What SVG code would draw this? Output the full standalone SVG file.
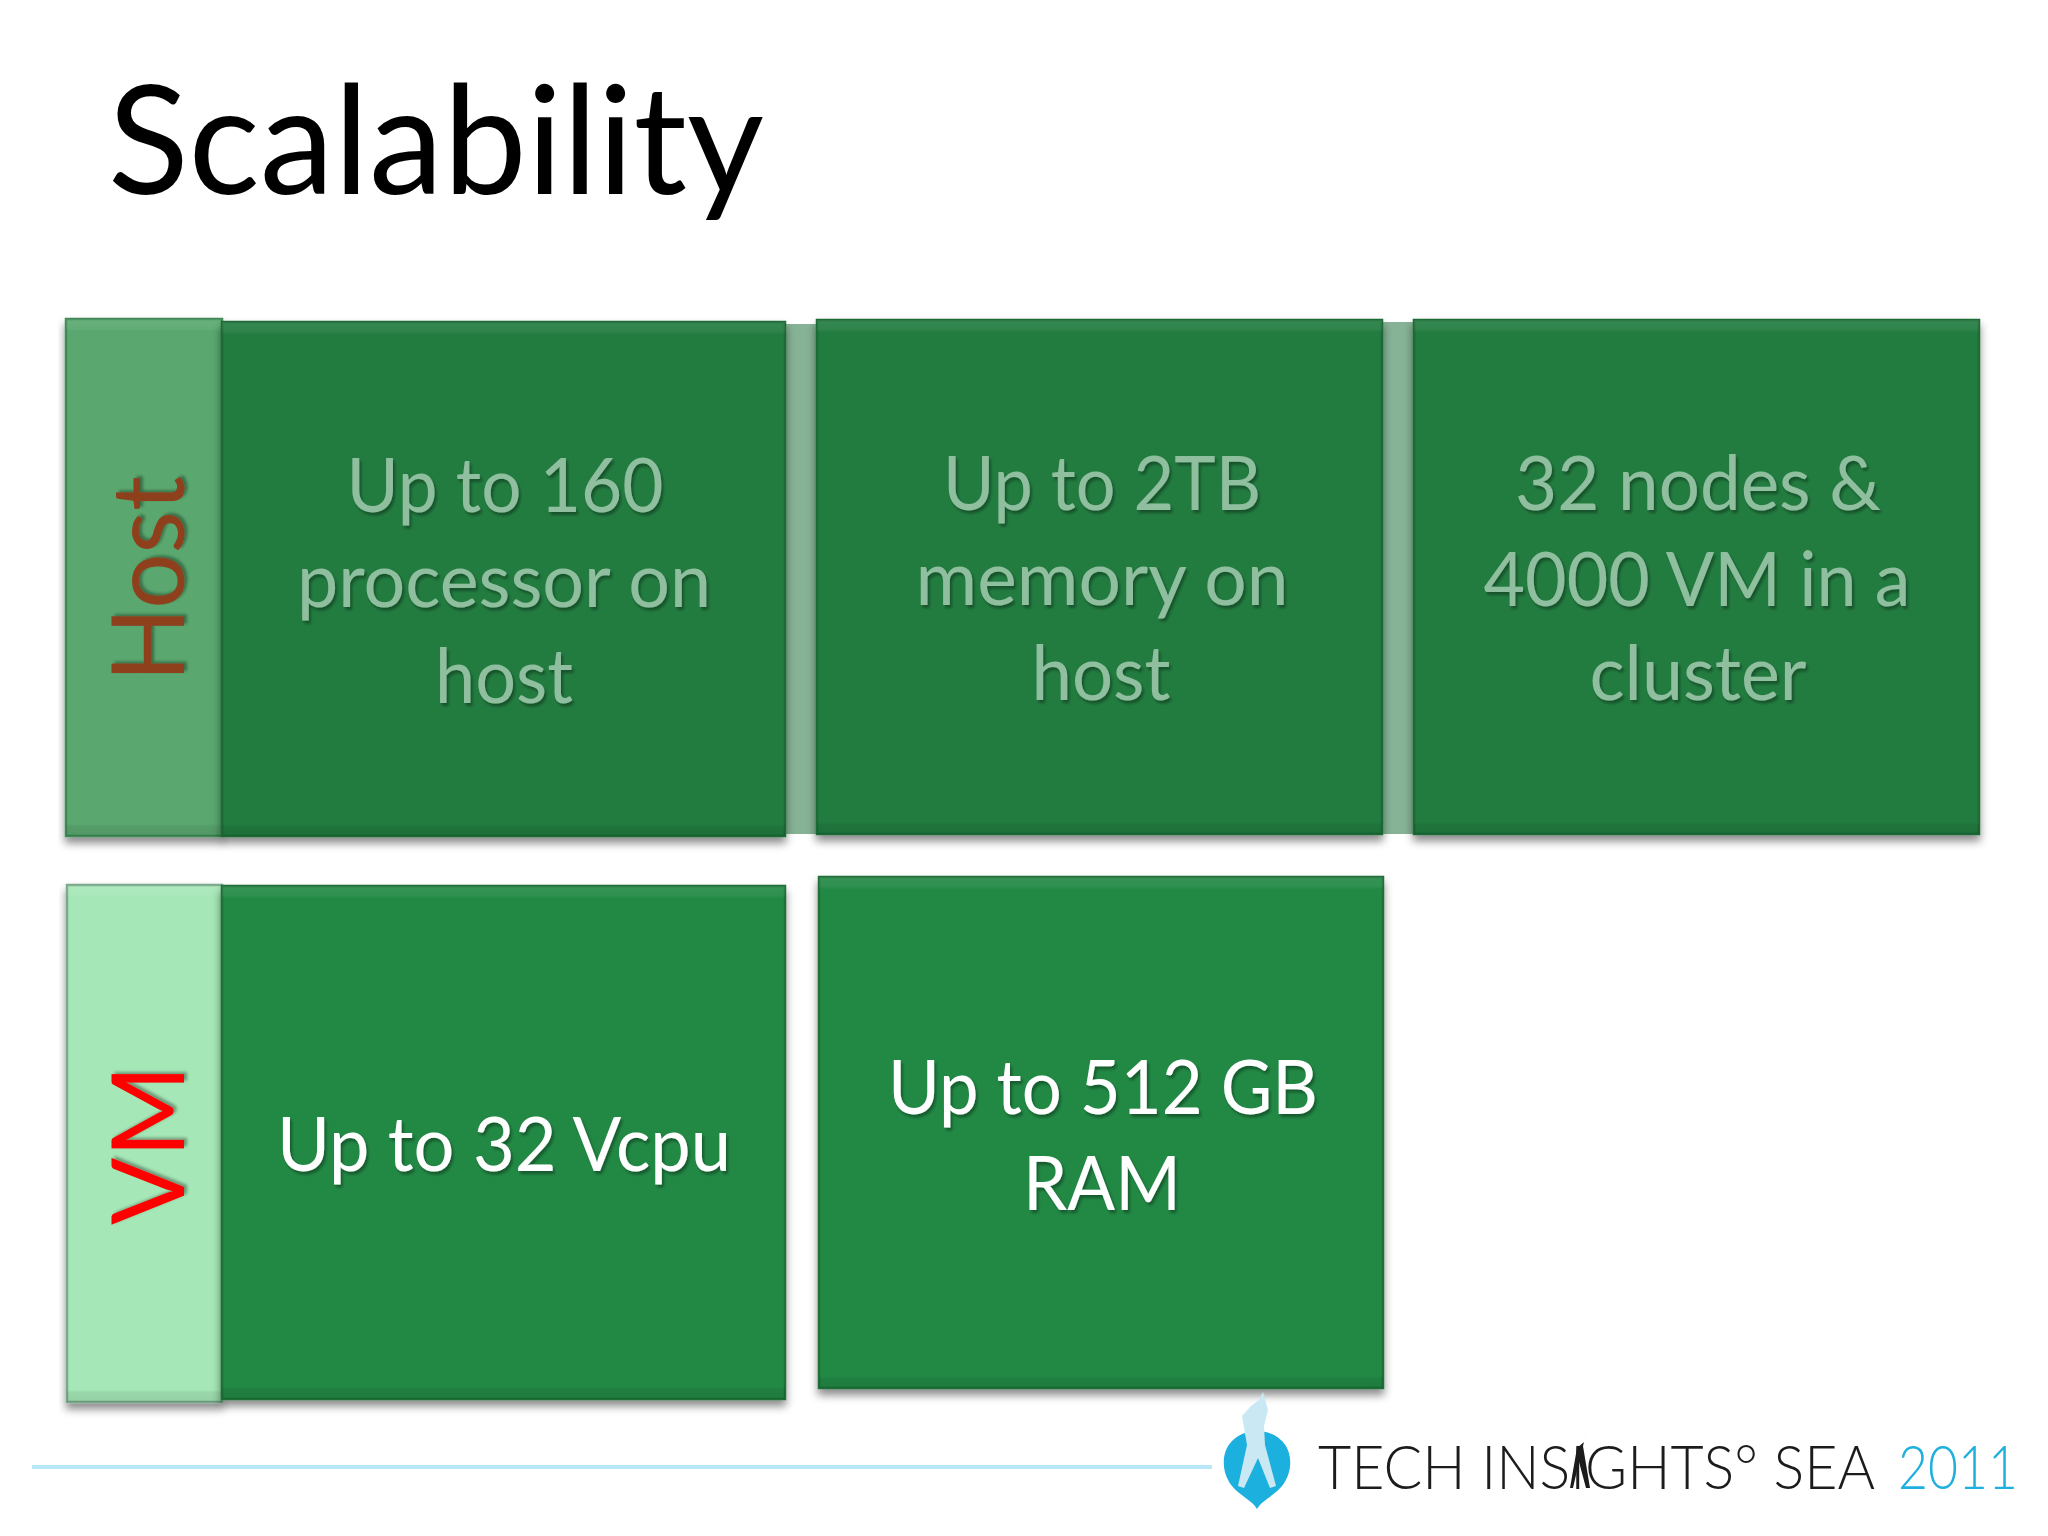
<svg xmlns="http://www.w3.org/2000/svg" width="2048" height="1536" viewBox="0 0 2048 1536">
<style>
text{font-family:"Lato","Carlito","Open Sans",sans-serif;}
.body{font-size:75px;text-anchor:middle;filter:url(#ts);}
.dim{fill:#8fbf9e;}
.lit{fill:#ffffff;}
.side{font-size:100px;text-anchor:middle;filter:url(#ts);}
.edge{stroke-width:2.5;}
.hb{fill:#217c3f;stroke:#1a6a35;}
.vb{fill:#248944;stroke:#1b6f37;}
</style>
<defs>
<filter id="sh" x="-5%" y="-5%" width="110%" height="110%"><feDropShadow dx="0" dy="6" stdDeviation="4" flood-color="#000" flood-opacity=".45"/></filter>
<filter id="ts" x="-10%" y="-20%" width="120%" height="140%"><feDropShadow dx="2" dy="3" stdDeviation="1.5" flood-color="#000" flood-opacity=".35"/></filter>
<filter id="bl" x="-10%" y="-10%" width="120%" height="120%"><feGaussianBlur stdDeviation=".7"/></filter>
<linearGradient id="bevel" x1="0" y1="0" x2="0" y2="1">
<stop offset="0" stop-color="#fff" stop-opacity=".09"/><stop offset=".018" stop-color="#fff" stop-opacity=".06"/><stop offset=".024" stop-color="#fff" stop-opacity="0"/><stop offset=".976" stop-color="#000" stop-opacity="0"/><stop offset=".982" stop-color="#000" stop-opacity=".07"/><stop offset="1" stop-color="#000" stop-opacity=".1"/>
</linearGradient>
</defs>
<rect width="2048" height="1536" fill="#fff"/>
<text id="title" x="108" y="194" font-size="152" fill="#000" textLength="656" lengthAdjust="spacingAndGlyphs">Scalability</text>

<g id="host-row">
<rect x="785" y="324" width="32" height="510" fill="#86b295"/>
<rect x="1382" y="322" width="32" height="512" fill="#86b295"/>
</g>
<g id="host-label" filter="url(#sh)">
<rect class="edge" x="66" y="319" width="156" height="517" fill="#5aa86f" stroke="#3f8a57"/>
<rect x="66" y="319" width="156" height="517" fill="url(#bevel)"/>
<text class="side" transform="translate(184 579) rotate(-90)" fill="#8e3f1f" textLength="206" lengthAdjust="spacingAndGlyphs">Host</text>
</g>
<g id="host-cpu">
<g filter="url(#sh)"><rect class="edge hb" x="222" y="322" width="563" height="514"/></g>
<rect x="222" y="322" width="563" height="514" fill="url(#bevel)"/>
<text class="body dim" x="505" y="512" textLength="317" lengthAdjust="spacingAndGlyphs">Up to 160</text>
<text class="body dim" x="504" y="607" textLength="414" lengthAdjust="spacingAndGlyphs">processor on</text>
<text class="body dim" x="504" y="703" textLength="138" lengthAdjust="spacingAndGlyphs">host</text>
</g>
<g id="host-memory">
<g filter="url(#sh)"><rect class="edge hb" x="817" y="320" width="565" height="514"/></g>
<rect x="817" y="320" width="565" height="514" fill="url(#bevel)"/>
<text class="body dim" x="1102" y="510" textLength="318" lengthAdjust="spacingAndGlyphs">Up to 2TB</text>
<text class="body dim" x="1102" y="605" textLength="373" lengthAdjust="spacingAndGlyphs">memory on</text>
<text class="body dim" x="1101" y="700" textLength="139" lengthAdjust="spacingAndGlyphs">host</text>
</g>
<g id="host-cluster">
<g filter="url(#sh)"><rect class="edge hb" x="1414" y="320" width="565" height="514"/></g>
<rect x="1414" y="320" width="565" height="514" fill="url(#bevel)"/>
<text class="body dim" x="1698" y="510" textLength="366" lengthAdjust="spacingAndGlyphs">32 nodes &amp;</text>
<text class="body dim" x="1697" y="606" textLength="427" lengthAdjust="spacingAndGlyphs">4000 VM in a</text>
<text class="body dim" x="1698" y="700" textLength="217" lengthAdjust="spacingAndGlyphs">cluster</text>
</g>

<g id="vm-label" filter="url(#sh)">
<rect class="edge" x="67" y="885" width="155" height="517" fill="#a5e7b7" stroke="#7aa88a"/>
<rect x="67" y="885" width="155" height="517" fill="url(#bevel)"/>
<text class="side" transform="translate(184 1145) rotate(-90)" fill="#ff0000" textLength="160" lengthAdjust="spacingAndGlyphs">VM</text>
</g>
<g id="vm-vcpu">
<g filter="url(#sh)"><rect class="edge vb" x="222" y="886" width="563" height="513"/></g>
<rect x="222" y="886" width="563" height="513" fill="url(#bevel)"/>
<text class="body lit" x="504" y="1171" textLength="454" lengthAdjust="spacingAndGlyphs">Up to 32 Vcpu</text>
</g>
<g id="vm-ram">
<g filter="url(#sh)"><rect class="edge vb" x="819" y="877" width="564" height="511"/></g>
<rect x="819" y="877" width="564" height="511" fill="url(#bevel)"/>
<text class="body lit" x="1103" y="1114" textLength="430" lengthAdjust="spacingAndGlyphs">Up to 512 GB</text>
<text class="body lit" x="1102" y="1210" textLength="158" lengthAdjust="spacingAndGlyphs">RAM</text>
</g>

<g id="footer">
<line x1="32" y1="1467" x2="1212" y2="1467" stroke="#b8e8f8" stroke-width="4"/>
<g filter="url(#bl)">
<path d="M1257 1509 C1252 1500 1240 1496 1232 1486 C1221 1472 1221 1452 1232 1441 C1240 1433 1250 1431 1257 1431 C1264 1431 1274 1433 1282 1441 C1293 1452 1293 1472 1282 1486 C1274 1496 1262 1500 1257 1509Z" fill="#1fb0de"/>
<path d="M1263 1392 L1268 1410 L1264 1426 L1265 1445 L1276 1486 L1270 1488 L1258 1458 L1244 1488 L1238 1486 L1247 1445 L1242 1416 L1251 1406 L1259 1400Z" fill="#c9e8f3"/>
</g>
<text transform="translate(1318 1489) scale(1 1.07)" font-size="57" font-weight="300" fill="#1c1c1c" textLength="557" lengthAdjust="spacingAndGlyphs">TECH INSIGHTS° SEA</text>
<text transform="translate(1898 1489) scale(1 1.07)" font-size="57" font-weight="300" fill="#1fb0de" textLength="120" lengthAdjust="spacingAndGlyphs">2011</text>
<path d="M1587 1430 L1583 1446 L1590 1488 L1586 1488 L1579 1462 L1573 1488 L1570 1488 L1577 1448 L1584 1442Z" fill="#1c1c1c"/>
</g>
</svg>
